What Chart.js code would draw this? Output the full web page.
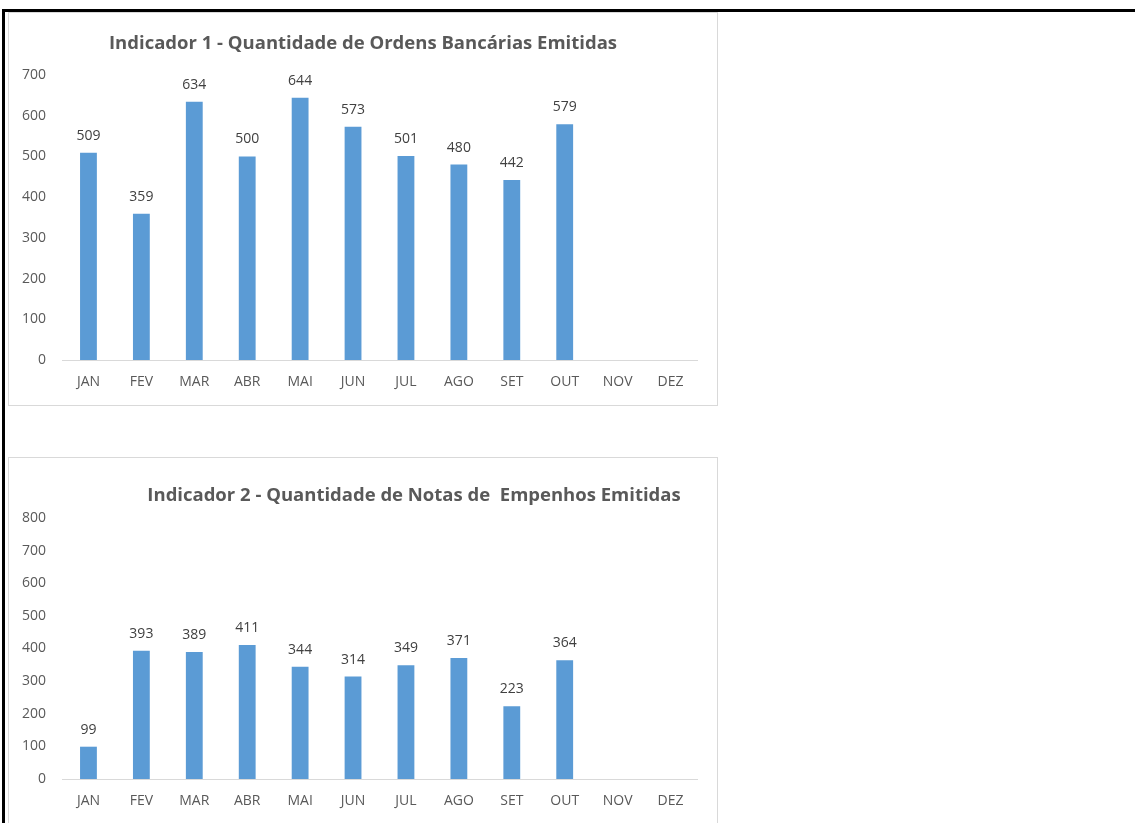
<!DOCTYPE html>
<html>
<head>
<meta charset="utf-8">
<script src="https://cdn.jsdelivr.net/npm/chart.js@4.4.1/dist/chart.umd.min.js"></script>
<style>
  html, body { margin: 0; padding: 0; background: #fff; }
  body { width: 1135px; height: 823px; position: relative; overflow: hidden; font-family: "Open Sans", sans-serif; }
  .frame { position: absolute; left: 2px; top: 9px; width: 1133px; height: 830px; border-top: 3px solid #000; border-left: 3px solid #000; box-sizing: border-box; }
  .box { position: absolute; left: 8px; width: 710px; border: 1px solid #d9d9d9; box-sizing: border-box; background: #fff; }
  .box canvas { position: absolute; left: 0; top: 0; }
  .titulo { position: absolute; font-weight: bold; font-size: 18.5px; color: #595959; white-space: nowrap; transform: translate(-50%, -50%); }
</style>
</head>
<body>
<div class="frame"></div>
<div class="box" id="box1" style="top:12px;height:394px;">
  <canvas id="grafico1"></canvas>
</div>
<div class="titulo" style="left:363px;top:41px;">Indicador 1 - Quantidade de Ordens Bancárias Emitidas</div>
<div class="box" id="box2" style="top:457px;height:380px;">
  <canvas id="grafico2"></canvas>
</div>
<div class="titulo" style="left:414px;top:493px;">Indicador 2 - Quantidade de Notas de&nbsp; Empenhos Emitidas</div>

<script>
const meses = ["JAN", "FEV", "MAR", "ABR", "MAI", "JUN", "JUL", "AGO", "SET", "OUT", "NOV", "DEZ"];
const ordensBancarias = [509, 359, 634, 500, 644, 573, 501, 480, 442, 579, null, null];
const notasEmpenho = [99, 393, 389, 411, 344, 314, 349, 371, 223, 364, null, null];
const maxIndicador1 = 700;
const maxIndicador2 = 800;

const fonte = "'Open Sans', sans-serif";

// rótulos acima das barras
const rotulosPlugin = {
  id: "rotulos",
  afterDatasetsDraw(chart) {
    const ctx = chart.ctx;
    const meta = chart.getDatasetMeta(0);
    ctx.save();
    ctx.font = "14px " + fonte;
    ctx.fillStyle = "#404040";
    ctx.textAlign = "center";
    ctx.textBaseline = "bottom";
    meta.data.forEach((bar, i) => {
      const v = chart.data.datasets[0].data[i];
      if (v == null) return;
      ctx.fillText(v, bar.x, bar.y - 10);
    });
    ctx.restore();
  }
};

function criarGrafico(id, dados, maximo, alturaCanvas, paddingTop) {
  const canvas = document.getElementById(id);
  canvas.width = 708;
  canvas.height = alturaCanvas;
  canvas.style.width = "708px";
  canvas.style.height = alturaCanvas + "px";
  return new Chart(canvas.getContext("2d"), {
    type: 'bar',
    data: {
      labels: meses,
      datasets: [{
        data: dados,
        backgroundColor: '#5b9bd5',
        borderWidth: 0,
        barPercentage: 0.6,
        categoryPercentage: 0.53
      }]
    },
    options: {
      responsive: false,
      animation: false,
      devicePixelRatio: 1,
      layout: { padding: { top: paddingTop, right: 20, bottom: 0, left: 0 } },
      plugins: {
        legend: { display: false },
        title: { display: false },
        tooltip: { enabled: false }
      },
      scales: {
        x: {
          grid: { display: false, drawTicks: false },
          border: { display: true, color: '#d9d9d9', width: 1 },
          ticks: {
            color: '#595959',
            font: { family: fonte, size: 14 },
            padding: 14,
            maxRotation: 0,
            autoSkip: false
          },
          afterFit: s => { s.height = 44; }
        },
        y: {
          min: 0,
          max: maximo,
          grid: { display: false, drawTicks: false },
          border: { display: false },
          ticks: {
            stepSize: 100,
            color: '#595959',
            font: { family: fonte, size: 14 },
            padding: 16
          },
          afterFit: s => { s.width = 53; }
        }
      }
    },
    plugins: [rotulosPlugin]
  });
}

criarGrafico("grafico1", ordensBancarias, maxIndicador1, 391, 62);
criarGrafico("grafico2", notasEmpenho, maxIndicador2, 365, 60);
</script>
</body>
</html>
